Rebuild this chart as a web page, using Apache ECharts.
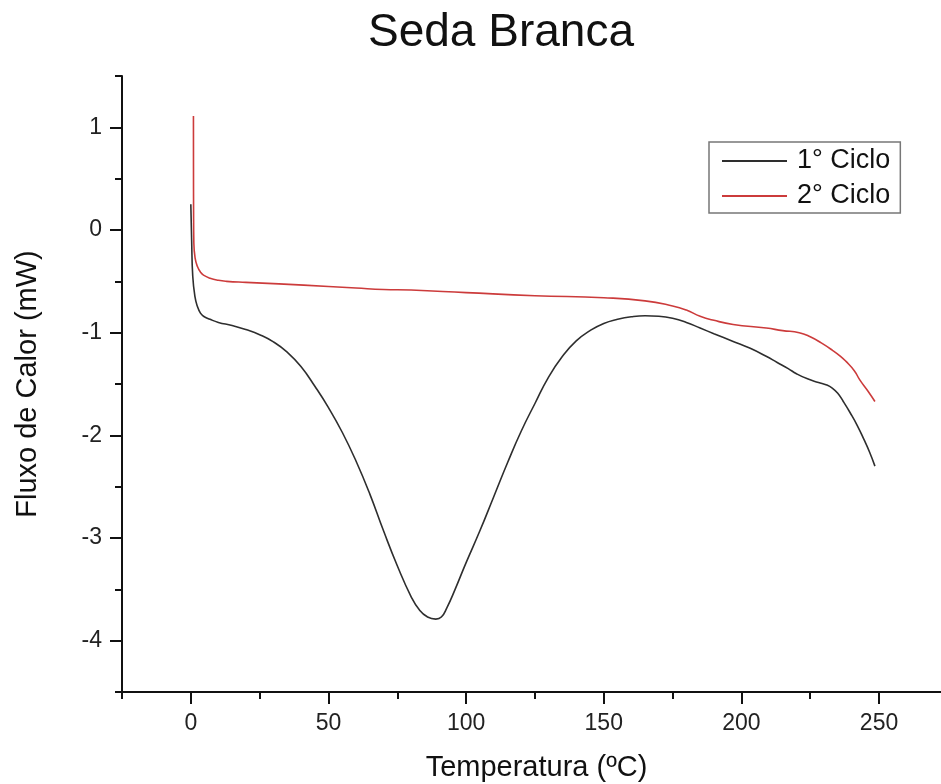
<!DOCTYPE html>
<html>
<head>
<meta charset="utf-8">
<title>Seda Branca</title>
<script src="https://cdn.jsdelivr.net/npm/echarts@6/dist/echarts.min.js"></script>
<style>
    html, body { margin: 0; padding: 0; background: #fff; }
    #chart { width: 941px; height: 784px; }
</style>
</head>
<body>
<div id="chart"></div>
<script>
    // 1° Ciclo (temperatura, fluxo)
    var temp1 = [0, 0.3, 0.7, 1.5, 2.4, 3.5, 4.6, 7, 10, 15, 20, 25, 30, 35, 40, 45, 50, 55, 60, 65, 70, 75, 80, 83, 86, 89, 91, 93, 96, 100, 105, 110, 115, 120, 125, 130, 135, 140, 145, 150, 155, 160, 165, 170, 175, 180, 185, 190, 197, 203, 209, 213, 217, 220, 224, 228, 231, 233, 235, 237, 239.5, 242, 244.5, 246.5, 248.5];
    var fluxo1 = [0.25, -0.1, -0.45, -0.65, -0.745, -0.81, -0.84, -0.87, -0.9, -0.93, -0.97, -1.02, -1.09, -1.19, -1.33, -1.52, -1.73, -1.97, -2.25, -2.57, -2.93, -3.27, -3.57, -3.70, -3.77, -3.79, -3.77, -3.68, -3.50, -3.24, -2.93, -2.60, -2.27, -1.96, -1.69, -1.43, -1.23, -1.08, -0.98, -0.91, -0.87, -0.845, -0.835, -0.84, -0.86, -0.9, -0.955, -1.01, -1.085, -1.15, -1.23, -1.29, -1.35, -1.40, -1.45, -1.485, -1.51, -1.54, -1.59, -1.67, -1.78, -1.9, -2.04, -2.16, -2.30];

    // 2° Ciclo
    var temp2 = [0.95, 0.97, 1.0, 1.1, 1.6, 2.4, 3.5, 4.6, 7, 10, 13, 20, 32, 50, 60, 70, 80, 100, 125, 150, 165, 175, 180, 185, 190, 197, 209, 215, 221, 225, 229, 233, 236, 238, 241, 243, 246, 248.5];
    var fluxo2 = [1.11, 0.6, 0.2, -0.13, -0.28, -0.355, -0.41, -0.44, -0.47, -0.49, -0.5, -0.51, -0.525, -0.55, -0.565, -0.58, -0.585, -0.61, -0.64, -0.66, -0.69, -0.74, -0.78, -0.84, -0.88, -0.92, -0.955, -0.98, -1.0, -1.04, -1.1, -1.17, -1.23, -1.28, -1.37, -1.46, -1.57, -1.67];

    var xMajor = [0, 50, 100, 150, 200, 250];
    var xMinor = [-25, 25, 75, 125, 175, 225];
    var yMajor = [-4, -3, -2, -1, 0, 1];
    var yMinor = [-4.5, -3.5, -2.5, -1.5, -0.5, 0.5, 1.5];

    function pares(xs, ys) {
        return xs.map(function (x, i) { return [x, ys[i]]; });
    }

    var fonte = '"Liberation Sans", Arial, sans-serif';
    var linha = { show: true, onZero: false, lineStyle: { color: '#111', width: 2 } };
    var semLinha = { show: false, onZero: false };

    var chart = echarts.init(document.getElementById('chart'));
    chart.setOption({
        animation: false,
        backgroundColor: '#fff',
        textStyle: { fontFamily: fonte },
        graphic: [{
            type: 'text',
            x: 501,
            y: 33,
            style: {
                text: 'Seda Branca',
                font: '46px ' + fonte,
                fill: '#111',
                align: 'center',
                verticalAlign: 'middle'
            }
        }],
        grid: { left: 122, right: 0, top: 76, bottom: 92, containLabel: false, outerBoundsMode: 'none' },
        legend: {
            orient: 'vertical',
            left: 709,
            top: 142,
            padding: [4, 10, 2, 13],
            itemGap: 5,
            itemWidth: 65,
            itemHeight: 2,
            icon: 'rect',
            borderColor: '#777',
            borderWidth: 1.5,
            textStyle: { fontSize: 27, color: '#111', lineHeight: 30, padding: [0, 0, 0, 5] },
            data: ['1° Ciclo', '2° Ciclo']
        },
        xAxis: [{
            type: 'value',
            min: -25,
            max: 272.5,
            position: 'bottom',
            axisLine: linha,
            splitLine: { show: false },
            axisTick: { show: true, length: 12, customValues: xMajor, lineStyle: { color: '#111', width: 2 } },
            axisLabel: { fontSize: 23, color: '#222', margin: 20, customValues: xMajor },
            name: 'Temperatura (ºC)',
            nameLocation: 'middle',
            nameGap: 61,
            nameTextStyle: { fontSize: 29, color: '#111', padding: [0, 0, 0, 10] }
        }, {
            type: 'value',
            min: -25,
            max: 272.5,
            position: 'bottom',
            axisLine: semLinha,
            splitLine: { show: false },
            axisTick: { show: true, length: 7, customValues: xMinor, lineStyle: { color: '#111', width: 2 } },
            axisLabel: { show: false, customValues: xMinor }
        }],
        yAxis: [{
            type: 'value',
            min: -4.5,
            max: 1.5,
            position: 'left',
            axisLine: linha,
            splitLine: { show: false },
            axisTick: { show: true, length: 12, customValues: yMajor, lineStyle: { color: '#111', width: 2 } },
            axisLabel: { fontSize: 23, color: '#222', margin: 20, customValues: yMajor },
            name: 'Fluxo de Calor (mW)',
            nameLocation: 'middle',
            nameGap: 80,
            nameTextStyle: { fontSize: 29, color: '#111' }
        }, {
            type: 'value',
            min: -4.5,
            max: 1.5,
            position: 'left',
            axisLine: semLinha,
            splitLine: { show: false },
            axisTick: { show: true, length: 7, customValues: yMinor, lineStyle: { color: '#111', width: 2 } },
            axisLabel: { show: false, customValues: yMinor }
        }],
        series: [{
            name: '1° Ciclo',
            type: 'line',
            xAxisIndex: 0,
            yAxisIndex: 0,
            data: pares(temp1, fluxo1),
            smooth: 0.5,
            symbol: 'none',
            lineStyle: { color: '#2e2e2e', width: 1.6 },
            itemStyle: { color: '#2e2e2e' }
        }, {
            name: '2° Ciclo',
            type: 'line',
            xAxisIndex: 0,
            yAxisIndex: 0,
            data: pares(temp2, fluxo2),
            smooth: 0.5,
            symbol: 'none',
            lineStyle: { color: '#cc3b3b', width: 1.6 },
            itemStyle: { color: '#cc3b3b' }
        }]
    });
</script>
</body>
</html>
